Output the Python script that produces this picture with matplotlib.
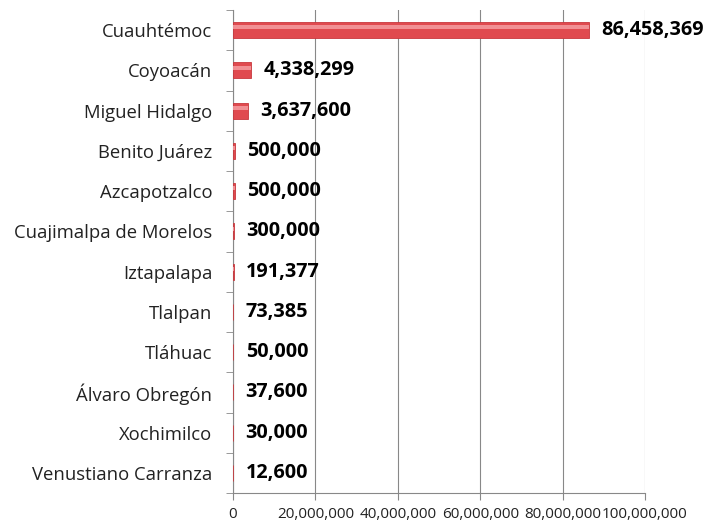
import matplotlib
matplotlib.use("Agg")
import matplotlib.pyplot as plt
import numpy as np

categories = ["Cuauhtémoc", "Coyoacán", "Miguel Hidalgo", "Benito Juárez", "Azcapotzalco",
              "Cuajimalpa de Morelos", "Iztapalapa", "Tlalpan", "Tláhuac", "Álvaro Obregón",
              "Xochimilco", "Venustiano Carranza"]
values = [86458369, 4338299, 3637600, 500000, 500000, 300000, 191377, 73385, 50000, 37600, 30000, 12600]
xticks = [0, 20000000, 40000000, 60000000, 80000000, 100000000]
xticklabels = ["0", "20,000,000", "40,000,000", "60,000,000", "80,000,000", "100,000,000"]

plt.rcParams['font.family'] = ['Open Sans', 'DejaVu Sans']

fig = plt.figure(figsize=(7.13, 5.23), dpi=100)
ax = fig.add_axes([233/713, 1-493/523, 412/713, 483/523])

n = len(categories)
y = np.arange(n)
ax.barh(y, values, height=0.4, color='#e04a4f', edgecolor='#c8383d', linewidth=0.6, zorder=3)
# highlight stripe
ax.barh(y - 0.07, values, height=0.1, color='#f6a3a6', linewidth=0, zorder=4, alpha=0.8)

for yi, v in zip(y, values):
    ax.text(v + 3.0e6, yi, f"{v:,}", va='center', ha='left', fontsize=14.3, fontweight='bold', zorder=5)

ax.set_ylim(n - 0.5, -0.5)
ax.set_xlim(0, 100000000)
ax.set_yticks(y)
ax.set_yticklabels(categories, fontsize=13.3, color='#222222')
ax.tick_params(axis='y', length=0, pad=15)
ax.set_yticks(np.arange(n + 1) - 0.5, minor=True)
ax.tick_params(axis='y', which='minor', length=5, color='#888888', direction='out')
ax.set_xticks(xticks)
ax.set_xticklabels(xticklabels, fontsize=11, color='#222222')
ax.tick_params(axis='x', length=5, color='#888888', pad=5)
ax.grid(axis='x', color='#888888', linewidth=0.8, zorder=0)
for s in ['top', 'right']:
    ax.spines[s].set_visible(False)
for s in ['left', 'bottom']:
    ax.spines[s].set_color('#888888')

fig.savefig("out.png", dpi=100)
